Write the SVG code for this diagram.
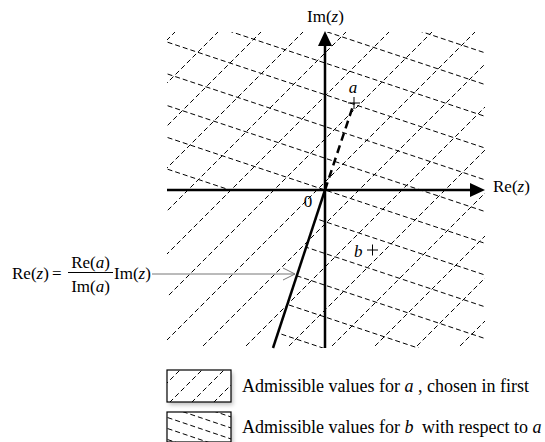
<svg xmlns="http://www.w3.org/2000/svg" width="545" height="442" viewBox="0 0 545 442">
<style>
.t{font-family:"Liberation Serif","Times New Roman",serif;font-size:17px;fill:#000}
.l{font-size:18px}
.i{font-style:italic}
.h{stroke:#000;stroke-width:1;stroke-dasharray:5 3;fill:none}
.ax{stroke:#000;stroke-width:2.5;fill:none}
.mk{stroke:#000;stroke-width:1;fill:none}
</style>
<defs>
<clipPath id="cA"><rect x="167" y="32" width="318" height="316"/></clipPath>
<clipPath id="cB"><polygon points="167,32 485,32 485,348 273,348 325,190 167,190"/></clipPath>
<clipPath id="cL1"><rect x="167" y="370" width="64" height="32"/></clipPath>
<clipPath id="cL2"><rect x="167" y="412" width="64" height="30"/></clipPath>
<filter id="sh" x="-20%" y="-20%" width="150%" height="170%"><feDropShadow dx="2" dy="3" stdDeviation="2" flood-color="#000" flood-opacity="0.25"/></filter>
<filter id="bl" x="-10%" y="-300%" width="120%" height="700%"><feGaussianBlur stdDeviation="1.5"/></filter>
</defs>

<g id="hatch-a" clip-path="url(#cA)">
<line class="h" x1="187" y1="20" x2="-153" y2="360"/>
<line class="h" x1="230" y1="20" x2="-110" y2="360"/>
<line class="h" x1="273" y1="20" x2="-67" y2="360"/>
<line class="h" x1="315" y1="20" x2="-25" y2="360"/>
<line class="h" x1="358" y1="20" x2="18" y2="360"/>
<line class="h" x1="401" y1="20" x2="61" y2="360"/>
<line class="h" x1="444" y1="20" x2="104" y2="360"/>
<line class="h" x1="487" y1="20" x2="147" y2="360"/>
<line class="h" x1="529" y1="20" x2="189" y2="360"/>
<line class="h" x1="572" y1="20" x2="232" y2="360"/>
<line class="h" x1="615" y1="20" x2="275" y2="360"/>
<line class="h" x1="658" y1="20" x2="318" y2="360"/>
<line class="h" x1="701" y1="20" x2="361" y2="360"/>
<line class="h" x1="743" y1="20" x2="403" y2="360"/>
<line class="h" x1="786" y1="20" x2="446" y2="360"/>
</g>

<g id="hatch-b" clip-path="url(#cB)">
<line class="h" x1="160" y1="-55.5" x2="490" y2="54.5"/>
<line class="h" x1="160" y1="-23.8" x2="490" y2="86.2"/>
<line class="h" x1="160" y1="8" x2="490" y2="118"/>
<line class="h" x1="160" y1="39.7" x2="490" y2="149.7"/>
<line class="h" x1="160" y1="71.5" x2="490" y2="181.5"/>
<line class="h" x1="160" y1="103.2" x2="490" y2="213.2"/>
<line class="h" x1="160" y1="135" x2="490" y2="245"/>
<line class="h" x1="160" y1="166.7" x2="490" y2="276.7"/>
<line class="h" x1="160" y1="198.5" x2="490" y2="308.5"/>
<line class="h" x1="160" y1="230.2" x2="490" y2="340.2"/>
<line class="h" x1="160" y1="262" x2="490" y2="372"/>
<line class="h" x1="160" y1="293.7" x2="490" y2="403.7"/>
<line class="h" x1="160" y1="325.5" x2="490" y2="435.5"/>
</g>

<g id="connectors">
<line class="ax" x1="167" y1="190" x2="472" y2="190"/>
<polygon points="470,183 485,190 470,197" fill="#000"/>
<line class="ax" x1="325" y1="348" x2="325" y2="44"/>
<polygon points="318,46 325,31 332,46" fill="#000"/>
<line class="ax" x1="325" y1="190" x2="273" y2="348"/>
<line x1="325" y1="190" x2="354" y2="103" stroke="#000" stroke-width="2.5" stroke-dasharray="8 5"/>
<line x1="152" y1="276" x2="294" y2="276" stroke="#999" stroke-width="2" filter="url(#bl)" opacity="0.6"/>
<line x1="152" y1="274" x2="295" y2="274" stroke="#777" stroke-width="1"/>
<polyline points="283,268 295,274 283,280" stroke="#777" stroke-width="1" fill="none"/>
</g>

<g id="point-a">
<line class="mk" x1="348" y1="103" x2="360" y2="103"/>
<line class="mk" x1="354" y1="97" x2="354" y2="109"/>
<text class="t i" x="353" y="93" text-anchor="middle">a</text>
</g>

<g id="point-b">
<line class="mk" x1="367" y1="250" x2="378" y2="250"/>
<line class="mk" x1="372.5" y1="244.5" x2="372.5" y2="255.5"/>
<text class="t i" x="354" y="257">b</text>
</g>

<g id="labels">
<text class="t" x="307" y="22" font-size="18">Im(<tspan class="i">z</tspan>)</text>
<text class="t" x="493" y="192" font-size="18">Re(<tspan class="i">z</tspan>)</text>
<text class="t" x="308" y="207" text-anchor="middle">0</text>
</g>

<g id="formula">
<text class="t" x="12" y="279">Re(<tspan class="i">z</tspan>)</text>
<text class="t" x="52" y="279">=</text>
<text class="t" x="90.5" y="268" text-anchor="middle">Re(<tspan class="i">a</tspan>)</text>
<line x1="68" y1="272.5" x2="113" y2="272.5" stroke="#000" stroke-width="1"/>
<text class="t" x="90.5" y="292" text-anchor="middle">Im(<tspan class="i">a</tspan>)</text>
<text class="t" x="114" y="279">Im(<tspan class="i">z</tspan>)</text>
</g>

<g id="legend-a">
<rect x="167" y="370" width="64" height="32" fill="#fff" filter="url(#sh)"/>
<g clip-path="url(#cL1)">
<line class="h" x1="185" y1="365" x2="145" y2="405"/>
<line class="h" x1="207" y1="365" x2="167" y2="405"/>
<line class="h" x1="229" y1="365" x2="189" y2="405"/>
<line class="h" x1="251" y1="365" x2="211" y2="405"/>
<line class="h" x1="273" y1="365" x2="233" y2="405"/>
</g>
<rect x="167" y="370" width="64" height="32" fill="none" stroke="#000" stroke-width="1.2"/>
<text class="t l" x="242" y="392">Admissible values for <tspan class="i">a</tspan> , chosen in first</text>
</g>

<g id="legend-b">
<rect x="167" y="412" width="64" height="30" fill="#fff" filter="url(#sh)"/>
<g clip-path="url(#cL2)">
<line class="h" x1="160" y1="393" x2="240" y2="420"/>
<line class="h" x1="160" y1="404" x2="240" y2="431"/>
<line class="h" x1="160" y1="415" x2="240" y2="442"/>
<line class="h" x1="160" y1="426" x2="240" y2="453"/>
<line class="h" x1="160" y1="437" x2="240" y2="464"/>
</g>
<rect x="167" y="412" width="64" height="30" fill="none" stroke="#000" stroke-width="1.2"/>
<text class="t l" x="242" y="433">Admissible values for <tspan class="i">b</tspan><tspan dx="4"> with respect to </tspan><tspan class="i">a</tspan></text>
</g>
</svg>
